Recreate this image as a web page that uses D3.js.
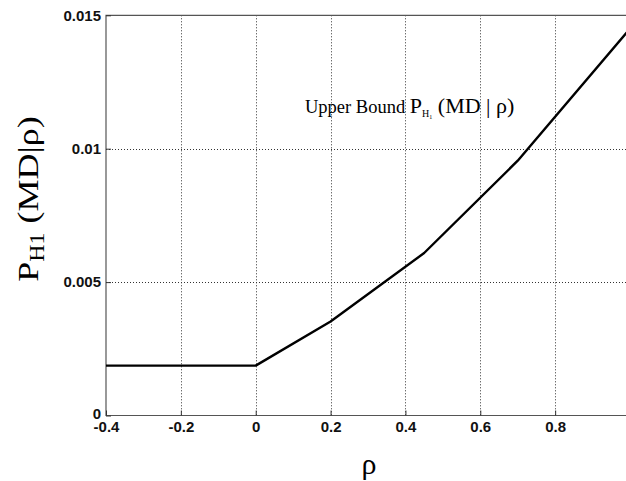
<!DOCTYPE html>
<html>
<head>
<meta charset="utf-8">
<script src="https://cdn.jsdelivr.net/npm/d3@7"></script>
<style>
  body { margin: 0; background: #fff; }
  .tick text { font-family: "Liberation Sans", Arial, sans-serif; font-weight: bold; font-size: 15px; fill: #111; }
</style>
</head>
<body>
<div id="chart"></div>
<script>
// curve values
var rho = [-0.4, 0, 0.2, 0.45, 0.7, 1.0];
var pmd = [0.00187, 0.00187, 0.00352, 0.00609, 0.00955, 0.0145];
var xTicks = [-0.4, -0.2, 0, 0.2, 0.4, 0.6, 0.8];
var xTickLabels = ["-0.4", "-0.2", "0", "0.2", "0.4", "0.6", "0.8"];
var yTicks = [0, 0.005, 0.01, 0.015];
var yTickLabels = ["0", "0.005", "0.01", "0.015"];

(function() {
  var width = 626, height = 481;
  var plotL = 106, plotR = 630, plotT = 15.3, plotB = 415.5;

  var svg = d3.select("#chart").append("svg")
    .attr("width", width)
    .attr("height", height);

  var x = d3.scaleLinear().domain([-0.4, 1]).range([plotL, plotR]);
  var y = d3.scaleLinear().domain([0, 0.015]).range([plotB, plotT]);

  // dotted grid
  var grid = svg.append("g").attr("stroke", "#333").attr("stroke-width", 1)
    .attr("stroke-dasharray", "1,2");
  grid.selectAll(".vg").data(xTicks.slice(1)).enter().append("line")
    .attr("x1", function(d) { return Math.round(x(d)) + 0.5 })
    .attr("x2", function(d) { return Math.round(x(d)) + 0.5 })
    .attr("y1", plotT).attr("y2", plotB);
  grid.selectAll(".hg").data(yTicks.slice(1, 3)).enter().append("line")
    .attr("y1", function(d) { return Math.round(y(d)) + 0.5 })
    .attr("y2", function(d) { return Math.round(y(d)) + 0.5 })
    .attr("x1", plotL).attr("x2", plotR);

  // box
  svg.append("path")
    .attr("d", "M" + plotR + "," + plotT + "H" + plotL + "V" + plotB + "H" + plotR)
    .attr("fill", "none").attr("stroke", "#555").attr("stroke-width", 1.2);

  // axes
  var xAxis = d3.axisBottom(x).tickValues(xTicks).tickSize(-5).tickPadding(6)
    .tickFormat(function(d, i) { return xTickLabels[i] });
  svg.append("g").attr("transform", "translate(0," + plotB + ")").call(xAxis)
    .call(function(g) { g.select(".domain").remove() })
    .call(function(g) { g.selectAll(".tick line").attr("stroke", "#333") });

  var yAxis = d3.axisLeft(y).tickValues(yTicks).tickSize(-5).tickPadding(5)
    .tickFormat(function(d, i) { return yTickLabels[i] });
  svg.append("g").attr("transform", "translate(" + plotL + ",0)").call(yAxis)
    .call(function(g) { g.select(".domain").remove() })
    .call(function(g) { g.selectAll(".tick line").attr("stroke", "#333") })
    .call(function(g) {
      g.selectAll(".tick").filter(function(d) { return d === 0 })
        .select("text").attr("dy", "0.22em")
    });

  // curve
  var line = d3.line()
    .x(function(d, i) { return x(rho[i]) })
    .y(function(d, i) { return y(pmd[i]) });
  svg.append("path").datum(pmd)
    .attr("d", line)
    .attr("fill", "none").attr("stroke", "#000").attr("stroke-width", 2.4)
    .attr("stroke-linejoin", "round");

  var serif = "'Liberation Serif', 'Times New Roman', serif";

  // x label
  svg.append("text")
    .attr("x", 369).attr("y", 474)
    .attr("text-anchor", "middle")
    .attr("font-family", serif).attr("font-size", 30)
    .text("ρ");

  // y label (stretched a bit along its length, like the original)
  var yl = svg.append("text")
    .attr("transform", "translate(38,199) rotate(-90) scale(1.2,1)")
    .attr("text-anchor", "middle")
    .attr("font-family", serif).attr("font-size", 30);
  yl.append("tspan").text("P");
  yl.append("tspan").attr("font-size", 20).attr("dy", 6).text("H1");
  yl.append("tspan").attr("dy", -6).text(" (MD|ρ)");

  // annotation
  var ann = svg.append("text")
    .attr("x", 305).attr("y", 113)
    .attr("font-family", serif).attr("font-size", 18.5);
  ann.append("tspan").text("Upper Bound ");
  ann.append("tspan").attr("font-size", 22).text("P");
  ann.append("tspan").attr("font-size", 10).attr("dy", 4).text("H");
  ann.append("tspan").attr("font-size", 6).attr("dy", 2).text("1");
  ann.append("tspan").attr("font-size", 22).attr("dy", -6).text(" (MD | ρ)");
})();
</script>
</body>
</html>
